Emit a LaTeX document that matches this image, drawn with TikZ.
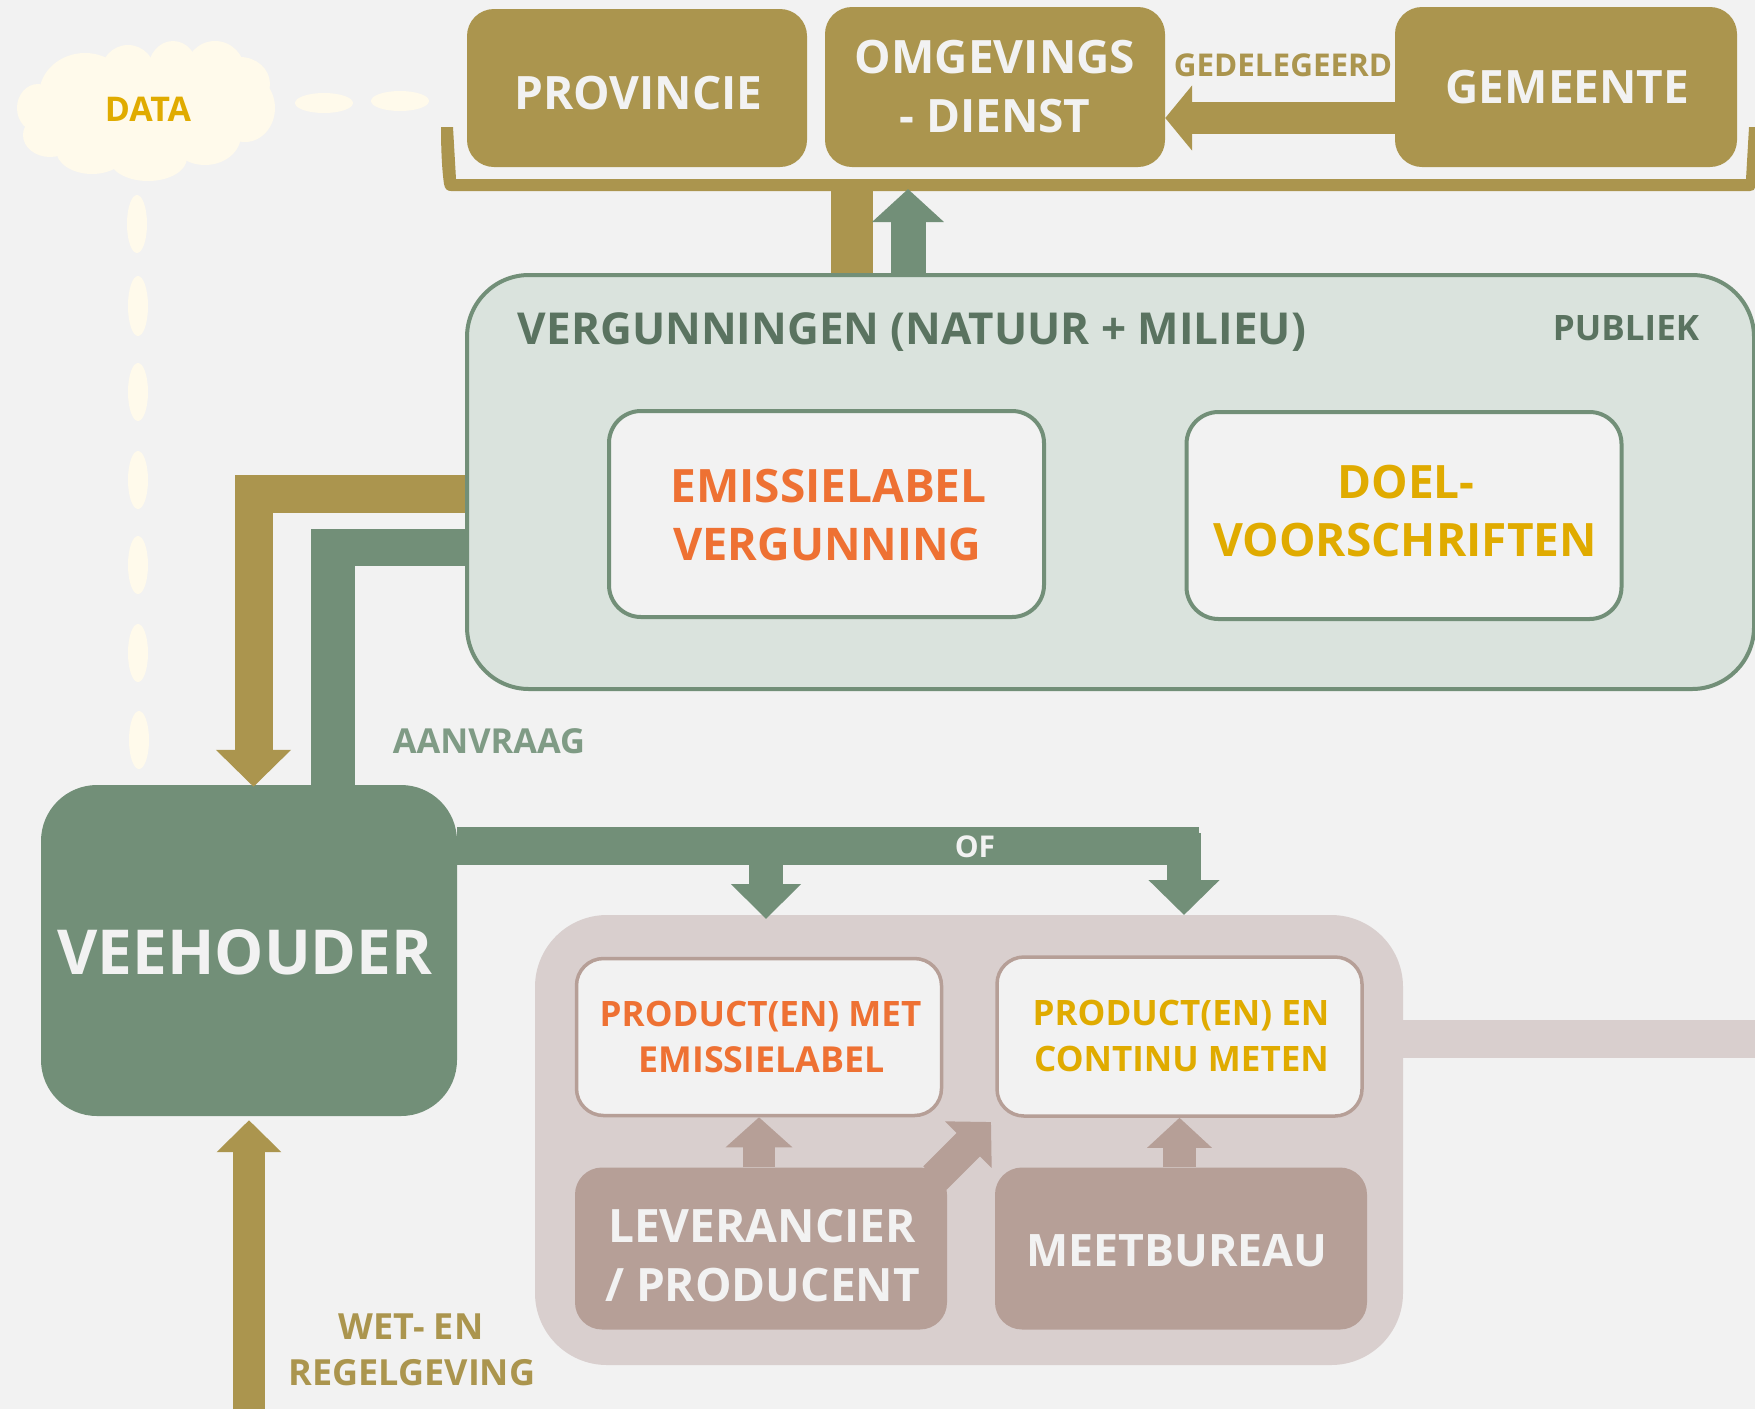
\documentclass[tikz,border=0pt]{standalone}
\usepackage{fontspec}
\setmainfont{Open Sans}
\usetikzlibrary{arrows.meta}
\definecolor{bgc}{HTML}{F2F2F2}
\definecolor{goldc}{HTML}{AB954E}
\definecolor{greenc}{HTML}{728F78}
\definecolor{greendk}{HTML}{5A7360}
\definecolor{greenlt}{HTML}{7F9B85}
\definecolor{vergc}{HTML}{DAE3DD}
\definecolor{panelc}{HTML}{D9CFCE}
\definecolor{brownc}{HTML}{B69F97}
\definecolor{orangec}{HTML}{EE7133}
\definecolor{yellowc}{HTML}{E0AB00}
\definecolor{creamc}{HTML}{FFFAEB}
\newcommand{\fsz}[1]{\fontsize{#1}{#1}\bfseries\selectfont}
% one text line: x offset, baseline below node centre, text
\newcommand{\tl}[3]{\makebox[0pt][c]{\hspace*{#1pt}\hspace*{#1pt}\raisebox{\dimexpr -#2pt\relax}[0pt][0pt]{#3}}}
\tikzset{
  boxbase/.style={rectangle,inner sep=0pt,align=center},
  goldbox/.style={boxbase,rounded corners=27pt,fill=goldc,text=bgc},
  greenbox/.style={boxbase,rounded corners=56pt,fill=greenc,text=bgc},
  brownbox/.style={boxbase,rounded corners=27pt,fill=brownc,text=bgc},
  vergbox/.style={boxbase,rounded corners=62pt,fill=vergc,draw=greenc,line width=4pt},
  whitegreen/.style={boxbase,rounded corners=32pt,fill=bgc,draw=greenc,line width=4pt},
  whitebrown/.style={boxbase,rounded corners=27pt,fill=bgc,draw=brownc,line width=3.5pt},
  panelbox/.style={boxbase,rounded corners=72pt,fill=panelc},
  freetext/.style={inner sep=0pt,anchor=base},
  goldline/.style={draw=goldc,line cap=butt},
  greenline/.style={draw=greenc,line cap=butt},
  brownline/.style={draw=brownc,line cap=butt},
  panelline/.style={draw=panelc,line cap=butt},
  blockarrow/.style n args={2}{-{Triangle[length=#1pt,width=#2pt]}},
  cream/.style={fill=creamc}
}
\begin{document}
\begin{tikzpicture}[x=1pt,y=-1pt]
\useasboundingbox (0,0) rectangle (1755,1409);
\fill[bgc] (0,0) rectangle (1755,1409);
\clip (0,0) rectangle (1755,1409);

% cloud
\fill[cream] (146,112) ellipse [x radius=100,y radius=50];
\fill[cream] (38,108) ellipse [x radius=21,y radius=24];
\fill[cream] (50,135) ellipse [x radius=27,y radius=22];
\fill[cream] (92,150) ellipse [x radius=36,y radius=24];
\fill[cream] (148,158) ellipse [x radius=39,y radius=23];
\fill[cream] (205,135) ellipse [x radius=36,y radius=30];
\fill[cream] (245,108) ellipse [x radius=30,y radius=34];
\fill[cream] (240,84) ellipse [x radius=30,y radius=27];
\fill[cream] (215,72) ellipse [x radius=30,y radius=31];
\fill[cream] (173,70) ellipse [x radius=25,y radius=29];
\fill[cream] (128,75) ellipse [x radius=28,y radius=30];
\fill[cream] (85,95) ellipse [x radius=46,y radius=42];
\node[freetext,text=yellowc,font=\fsz{34}] (data) at (148,121) {DATA};
% dashes from the cloud
\fill[cream] (324,103) ellipse [x radius=29,y radius=10];
\fill[cream] (400,101) ellipse [x radius=29,y radius=10];
\fill[cream] (137,224) ellipse [x radius=10,y radius=29];
\fill[cream] (138,306) ellipse [x radius=10,y radius=30];
\fill[cream] (138,392) ellipse [x radius=10,y radius=29];
\fill[cream] (138,480) ellipse [x radius=10,y radius=29];
\fill[cream] (138,565) ellipse [x radius=10,y radius=29];
\fill[cream] (138,653) ellipse [x radius=10,y radius=29];
\fill[cream] (139,740) ellipse [x radius=10,y radius=29];

% bracket
\fill[goldc] (441,127) -- (453,127) -- (456,179) -- (1746,179) -- (1749,127) -- (1755,127)
  -- (1755,186) .. controls (1755,190) and (1753,191) .. (1750,191) -- (451,191)
  .. controls (447,191) and (445,189) .. (444,184) .. controls (442,170) and (441,150) .. (441,127) -- cycle;

% top boxes
\node[goldbox,minimum width=340pt,minimum height=158pt,font=\fsz{46}] (prov) at (637,88) {\tl{1.5}{21}{PROVINCIE}};
\node[goldbox,minimum width=340pt,minimum height=160pt,font=\fsz{46}] (omg) at (995,87) {\tl{0}{-14}{OMGEVINGS}\tl{0}{45}{- DIENST}};
\node[goldbox,minimum width=342pt,minimum height=160pt,font=\fsz{46}] (gem) at (1566,87) {\tl{1.5}{16}{GEMEENTE}};
\node[freetext,text=goldc,font=\fsz{31.4}] (gedel) at (1283,76) {GEDELEGEERD};

% vergunningen
\node[vergbox,minimum width=1287pt,minimum height=414pt] (verg) at (1110.5,482) {};
\node[freetext,text=greendk,font=\fsz{44}] (vergt) at (912,344) {VERGUNNINGEN (NATUUR + MILIEU)};
\node[freetext,text=greendk,font=\fsz{35}] (publ) at (1626,340) {PUBLIEK};
\node[whitegreen,minimum width=435pt,minimum height=206pt,font=\fsz{46},text=orangec] (emis) at (826.5,514) {\tl{2}{-12}{EMISSIELABEL}\tl{1}{46}{\fsz{45}VERGUNNING}};
\node[whitegreen,minimum width=435pt,minimum height=207pt,font=\fsz{46},text=yellowc] (doel) at (1404,515.5) {\tl{2}{-17.5}{DOEL-}\tl{1}{40.5}{VOORSCHRIFTEN}};

% veehouder
\node[greenbox,minimum width=416pt,minimum height=331pt,font=\fsz{62}] (veeh) at (249,950.5) {\tl{-4}{23.5}{VEEHOUDER}};
\node[freetext,text=greenlt,font=\fsz{34.4}] (aanv) at (489,753.5) {AANVRAAG};

% product panel
\node[panelbox,minimum width=868pt,minimum height=450pt] (panel) at (969,1140) {};
\node[whitebrown,minimum width=365pt,minimum height=157pt,font=\fsz{35},text=orangec] (prod1) at (759,1037) {\tl{1.5}{-11}{PRODUCT(EN) MET}\tl{2.5}{35}{\fsz{35.8}EMISSIELABEL}};
\node[whitebrown,minimum width=365pt,minimum height=159pt,font=\fsz{35},text=yellowc] (prod2) at (1179.5,1036.5) {\tl{1.5}{-11}{PRODUCT(EN) EN}\tl{2}{35}{CONTINU METEN}};
\node[brownbox,minimum width=372pt,minimum height=162pt,font=\fsz{46}] (lev) at (761,1248.5) {\tl{1}{-6.5}{LEVERANCIER}\tl{1.5}{52.5}{/ PRODUCENT}};
\node[brownbox,minimum width=372pt,minimum height=162pt,font=\fsz{44.7}] (meet) at (1181,1248.5) {\tl{-4}{17.5}{MEETBUREAU}};
\node[freetext,text=goldc,font=\fsz{36}] (wet1) at (411,1339) {WET- EN};
\node[freetext,text=goldc,font=\fsz{36}] (wet2) at (412,1385) {REGELGEVING};

% helper coordinates
\coordinate (xGoldUp) at (852,0);
\coordinate (xGreenUp) at (908,0);
\coordinate (brk) at (0,191);
\coordinate (yDel) at (0,118);
\coordinate (yGoldL) at (0,494);
\coordinate (xGoldL) at (253.5,0);
\coordinate (yGreenL) at (0,547.5);
\coordinate (xGreenL) at (333,0);
\coordinate (yGreenR) at (0,846);
\coordinate (barEnd) at (1199,846);
\coordinate (xOne) at (766,0);
\coordinate (xTwo) at (1184,0);
\coordinate (barLow) at (1184,833);
\coordinate (tipTwo) at (1184,915);
\coordinate (tipOne) at (766,919);
\coordinate (xLaw) at (249,0);
\coordinate (lawSrc) at (249,1409);
\coordinate (diagFrom) at (935,1178);
\coordinate (diagTip) at (991,1122);
\coordinate (yStub) at (0,1039);
\coordinate (stubEnd) at (1755,1039);

% connectors
\draw[goldline,line width=42pt] (verg.north -| xGoldUp) -- (brk -| xGoldUp);
\draw[greenline,line width=35pt,blockarrow={33}{70}] (verg.north -| xGreenUp) -- ([yshift=2pt]brk -| xGreenUp);
\draw[goldline,line width=32pt,blockarrow={27}{64}] (gem.west |- yDel) -- (omg.east |- yDel);
\draw[goldline,line width=38pt,blockarrow={37}{73}] (verg.west |- yGoldL) -| ([yshift=-2pt]veeh.north -| xGoldL);
\draw[greenline,line width=37pt] (verg.west |- yGreenL) -- (yGreenL -| xGreenL);
\draw[greenline,line width=44pt] ([yshift=18.5pt]yGreenL -| xGreenL) -- (veeh.north -| xGreenL);
\draw[greenline,line width=38pt] (veeh.east |- yGreenR) -- (barEnd);
\draw[greenline,line width=34pt,blockarrow={35}{68}] (yGreenR -| xOne) -- (tipOne);
\draw[greenline,line width=34pt,blockarrow={35}{69}] (barLow) -- (tipTwo);
\draw[goldline,line width=32pt,blockarrow={32}{63}] (lawSrc) -- ([yshift=-4pt]veeh.south -| xLaw);
\draw[panelline,line width=38pt] (panel.east |- yStub) -- (stubEnd);
\draw[brownline,line width=32pt,blockarrow={30}{65}] (lev.north -| prod1.south) -- (prod1.south);
\draw[brownline,line width=33pt,blockarrow={30}{63}] (meet.north -| prod2.south) -- (prod2.south);
\draw[brownline,line width=33pt,blockarrow={32}{64}] (diagFrom) -- (diagTip);
\node[freetext,text=bgc,font=\fsz{30}] (ofl) at (975,857) {OF};
\end{tikzpicture}
\end{document}
